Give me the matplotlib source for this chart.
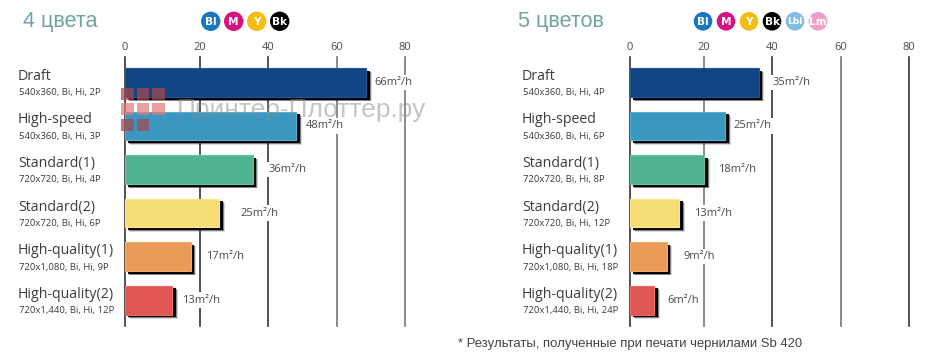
import numpy as np
import matplotlib
matplotlib.use("Agg")
from matplotlib import pyplot as plt
from matplotlib import patheffects as pe
from matplotlib.patches import Circle, Rectangle

W, H = 934, 362

modes = ["Draft", "High-speed", "Standard(1)", "Standard(2)", "High-quality(1)", "High-quality(2)"]
settings_4 = ["540x360, Bi, Hi, 2P", "540x360, Bi, Hi, 3P", "720x720, Bi, Hi, 4P",
              "720x720, Bi, Hi, 6P", "720x1,080, Bi, Hi, 9P", "720x1,440, Bi, Hi, 12P"]
settings_5 = ["540x360, Bi, Hi, 4P", "540x360, Bi, Hi, 6P", "720x720, Bi, Hi, 8P",
              "720x720, Bi, Hi, 12P", "720x1,080, Bi, Hi, 18P", "720x1,440, Bi, Hi, 24P"]
# bar lengths as read against the axis, printed labels are a bit different in the source
bars_4 = [68.6, 48.2, 35.5, 25.7, 17.5, 12.7]
bars_5 = [36.1, 26.3, 20.1, 13.4, 10.0, 6.6]
speeds_4 = [66, 48, 36, 25, 17, 13]
speeds_5 = [35, 25, 18, 13, 9, 6]
ticks = [0, 20, 40, 60, 80]
bar_colors = ["#124584", "#3a98c0", "#4db392", "#f6dd74", "#ea9b55", "#e05655"]
edge_colors = ["#1d5596", "#4eb0d4", "#62c5a4", "#fbe78c", "#f4ac6c", "#ec6c6a"]
inks_4 = [("Bl", "#1878bf"), ("M", "#d6127f"), ("Y", "#f2bd14"), ("Bk", "#000000")]
inks_5 = inks_4 + [("Lbl", "#82bde3"), ("Lm", "#ed9fc5")]

# the tick spacing in the source is uneven (first step is wider), pixel offsets of the ticks
tick_px_4 = [0, 75.5, 143.5, 212, 280.5]
tick_px_5 = [0, 74.5, 142.5, 211.5, 279.5]
# gap bar end -> value label, px
gaps_4 = [8, 10, 15.5, 21.5, 15.5, 10]
gaps_5 = [14, 8, 13.5, 15, 17, 13]

PX = 72 / 100  # points per pixel at dpi 100
plt.rcParams["font.family"] = ["Open Sans", "DejaVu Sans"]

fig = plt.figure(figsize=(W / 100, H / 100), dpi=100, facecolor="white")


def make_panel(x0, bars, speeds, settings, tick_px, gaps, label_x, dark_lines):
    width = tick_px[-1]
    ax = fig.add_axes([x0 / W, 1 - 325.5 / H, width / W, (325.5 - 57) / H])
    ax.set_xscale("function", functions=(lambda v: np.interp(v, ticks, tick_px),
                                         lambda p: np.interp(p, tick_px, ticks)))
    ax.set_xlim(0, 80)
    ax.set_ylim(5.585, -0.585)
    ax.set_xticks(ticks)
    ax.set_yticks([])
    ax.xaxis.tick_top()
    ax.tick_params(axis="x", length=0, pad=3, labelsize=8, labelcolor="#4a4a4a")
    for s in ax.spines.values():
        s.set_visible(False)
    ax.set_axisbelow(True)
    ax.grid(axis="x", lw=1.2)
    for line, dark in zip(ax.get_xgridlines(), dark_lines):
        line.set_color("#3c3232" if dark else "#7d7572")
        line.set_clip_on(False)

    shadow = [pe.SimplePatchShadow(offset=(5.6 * PX, -4.4 * PX), shadow_rgbFace="black", alpha=0.15, rho=1),
              pe.SimplePatchShadow(offset=(4.6 * PX, -3.6 * PX), shadow_rgbFace="black", alpha=0.4, rho=1),
              pe.SimplePatchShadow(offset=(3.6 * PX, -2.8 * PX), shadow_rgbFace="black", alpha=1, rho=1),
              pe.Normal()]
    rects = ax.barh(range(len(bars)), bars, height=0.665, color=bar_colors,
                    edgecolor=edge_colors, linewidth=0.8, zorder=3)
    for r in rects:
        r.set_path_effects(shadow)

    for i in range(len(bars)):
        ax.annotate(f"{speeds[i]}m²/h", (bars[i], i), xytext=(gaps[i] * PX, 0),
                    textcoords="offset points", ha="left", va="center", fontsize=8,
                    color="#4a4a4a", zorder=5,
                    bbox=dict(facecolor="white", edgecolor="none", pad=1.5))
        ax.annotate(modes[i], (0, i), xytext=((label_x - x0) * PX, 6 * PX),
                    textcoords="offset points", ha="left", va="center", fontsize=10.2,
                    color="#3c3c3c", annotation_clip=False)
        ax.annotate(settings[i], (0, i), xytext=((label_x + 1 - x0) * PX, -10.5 * PX),
                    textcoords="offset points", ha="left", va="center", fontsize=6.8,
                    color="#3c3c3c", annotation_clip=False)
    return ax


make_panel(124.5, bars_4, speeds_4, settings_4, tick_px_4, gaps_4, 18,
           [True, True, True, False, False])
make_panel(629.5, bars_5, speeds_5, settings_5, tick_px_5, gaps_5, 522,
           [True, False, True, False, True])

# overlay in image pixels for titles, ink badges, watermark, footnote
over = fig.add_axes([0, 0, 1, 1], zorder=10)
over.set_xlim(0, W)
over.set_ylim(H, 0)
over.axis("off")
over.patch.set_alpha(0)

over.text(23, 21.5, "4 цвета", fontsize=15.6, color="#6fa5a0", family="Liberation Sans", va="center")
over.text(518, 21.5, "5 цветов", fontsize=15.6, color="#6fa5a0", family="Liberation Sans", va="center")


def draw_inks(inks, start, step, r):
    for i, (name, color) in enumerate(inks):
        cx = start + i * step
        over.add_patch(Circle((cx, 21.3), r, facecolor=color, edgecolor="none"))
        over.text(cx, 21.6, name, color="white", fontsize=7.6 if len(name) < 3 else 6.6,
                  fontweight="bold", ha="center", va="center", family="Liberation Sans Narrow")


draw_inks(inks_4, 210.7, 23, 9.7)
draw_inks(inks_5, 703, 23, 9.3)

# watermark
for row, col in [(0, 0), (0, 1), (0, 2), (1, 0), (1, 1), (1, 2), (2, 0), (2, 1)]:
    shade = "#a8484c" if row != 1 else "#e27c7c"
    over.add_patch(Rectangle((121 + col * 15.7, 88 + row * 15.3), 12.5, 12, facecolor=shade,
                             edgecolor="none", alpha=0.72))
over.text(177, 110, "Принтер-Плоттер.ру", fontsize=18.9, color="#8a8a8a", alpha=0.5,
          family="Liberation Sans", va="center")

over.text(458, 344, "* Результаты, полученные при печати чернилами Sb 420", fontsize=9.45,
          color="#444444", family="Liberation Sans", va="center")

fig.savefig("out.png", dpi=100)
